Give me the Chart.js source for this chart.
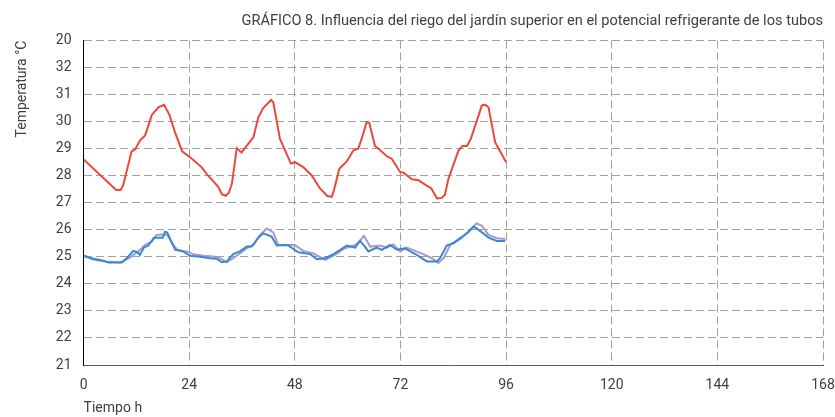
<!DOCTYPE html>
<html lang="es">
<head>
<meta charset="utf-8">
<title>Gráfico 8</title>
<script src="https://cdn.jsdelivr.net/npm/chart.js@4/dist/chart.umd.min.js"></script>
<style>
  html, body { margin: 0; padding: 0; background: #fff; }
  #wrap { width: 835px; height: 417px; position: relative; }
</style>
</head>
<body>
<div id="wrap"><canvas id="grafico8"></canvas></div>
<script>
// Eje X: horas de ensayo (0 - 168 h, marcas cada 24 h)
const horaMin = 0;
const horaMax = 168;
const horaPaso = 24;

// Eje Y: temperatura en °C (la marca superior aparece rotulada como "20")
const tempMin = 21;
const tempMax = 33;
const etiquetasY = { 33: '20' };

// Temperatura del aire [hora, °C]
const tempAire = [
    [0, 28.6], [7.4, 27.47], [8.4, 27.47], [9.0, 27.65], [10.9, 28.9], [11.7, 28.97],
    [12.8, 29.3], [14.0, 29.5], [15.5, 30.25], [17.0, 30.53], [18.3, 30.62], [19.5, 30.25],
    [20.8, 29.59], [22.4, 28.9], [24.6, 28.63], [26.8, 28.32], [28.0, 28.06], [30.6, 27.59],
    [31.4, 27.32], [32.3, 27.26], [33.0, 27.37], [33.7, 27.71], [34.8, 29.02], [35.9, 28.86],
    [38.6, 29.43], [39.7, 30.16], [40.8, 30.5], [42.6, 30.8], [43.1, 30.72], [44.6, 29.37],
    [47.1, 28.45], [48.0, 28.5], [49.9, 28.32], [51.8, 28.02], [53.7, 27.53], [55.4, 27.25],
    [56.4, 27.22], [56.9, 27.47], [58.1, 28.26], [59.8, 28.53], [61.3, 28.94], [62.4, 29.0],
    [63.2, 29.37], [64.3, 29.98], [64.9, 29.96], [66.2, 29.1], [67.4, 28.94], [68.9, 28.72],
    [70.0, 28.63], [71.2, 28.32], [71.9, 28.14], [72.7, 28.11], [74.6, 27.87], [76.1, 27.83],
    [77.6, 27.67], [79.0, 27.53], [80.3, 27.16], [81.4, 27.18], [82.1, 27.3], [82.9, 27.89],
    [85.2, 28.94], [86.1, 29.1], [87.1, 29.1], [88.0, 29.37], [90.5, 30.6], [91.2, 30.63],
    [92.0, 30.53], [93.5, 29.24], [96.0, 28.5]
];

// Tubo con riego [hora, °C]
const tempTuboRiego = [
    [0, 25.04], [2.2, 24.91], [4.5, 24.85], [5.6, 24.79], [8.7, 24.79], [9.8, 24.95],
    [11.3, 25.22], [12.2, 25.17], [12.8, 25.07], [13.7, 25.34], [14.7, 25.42], [16.0, 25.71],
    [18.0, 25.71], [18.5, 25.93], [19.0, 25.9], [20.8, 25.26], [22.3, 25.23], [24.2, 25.04],
    [26.5, 25.0], [28.7, 24.95], [30.2, 24.93], [31.4, 24.8], [32.5, 24.83], [34.0, 25.1],
    [35.5, 25.2], [37.1, 25.38], [38.2, 25.38], [39.7, 25.71], [40.8, 25.87], [42.7, 25.75],
    [43.9, 25.42], [45.4, 25.44], [46.5, 25.42], [48.8, 25.17], [51.5, 25.1], [53.0, 24.91],
    [54.9, 24.95], [56.8, 25.1], [58.3, 25.26], [59.8, 25.42], [61.7, 25.34], [62.8, 25.59],
    [63.6, 25.44], [64.7, 25.2], [66.6, 25.34], [67.8, 25.26], [69.6, 25.44], [71.2, 25.26],
    [73.0, 25.32], [74.2, 25.2], [75.7, 25.07], [78.0, 24.83], [80.3, 24.83], [81.0, 24.95],
    [82.5, 25.42], [84.0, 25.5], [85.9, 25.71], [87.4, 25.93], [88.6, 26.12], [90.1, 25.96],
    [92.0, 25.71], [93.9, 25.59], [95.8, 25.59]
];

// Tubo sin riego [hora, °C]
const tempTuboSinRiego = [
    [0, 25.04], [1.5, 24.97], [3.7, 24.89], [5.2, 24.83], [8.3, 24.79], [10.5, 24.97],
    [12.4, 25.2], [14.0, 25.44], [15.5, 25.56], [16.6, 25.81], [18.1, 25.83], [19.0, 25.81],
    [20.4, 25.44], [21.5, 25.22], [23.4, 25.2], [24.9, 25.1], [27.2, 25.04], [29.5, 25.01],
    [31.0, 24.95], [32.5, 24.8], [34.0, 24.95], [35.5, 25.13], [37.1, 25.32], [38.6, 25.44],
    [40.1, 25.81], [41.6, 26.05], [43.1, 25.9], [44.2, 25.44], [46.5, 25.44], [48.0, 25.44],
    [49.9, 25.22], [52.2, 25.13], [54.9, 24.89], [57.1, 25.07], [59.4, 25.32], [61.7, 25.44],
    [62.8, 25.59], [63.7, 25.78], [65.1, 25.38], [67.4, 25.42], [68.9, 25.34], [70.4, 25.46],
    [71.9, 25.2], [73.4, 25.34], [75.3, 25.22], [77.2, 25.1], [79.1, 24.95], [80.6, 24.77],
    [81.8, 24.95], [83.3, 25.44], [85.5, 25.69], [87.4, 25.9], [89.3, 26.24], [90.5, 26.15],
    [92.0, 25.81], [93.9, 25.69], [95.8, 25.66]
];

const aPuntos = serie => serie.map(([x, y]) => ({ x, y }));

const fuente = { family: 'Roboto', size: 14 };
const colorTexto = '#404040';
const colorRejilla = '#a0a0a0';

const ctx = document.getElementById('grafico8').getContext('2d');
const grafico = new Chart(ctx, {
    type: 'line',
    data: {
        datasets: [
            {
                label: 'Aire',
                data: aPuntos(tempAire),
                borderColor: '#ec473d',
                borderWidth: 2,
                pointRadius: 0,
                tension: 0
            },
            {
                label: 'Tubo con riego',
                data: aPuntos(tempTuboRiego),
                borderColor: '#3c87cf',
                borderWidth: 2,
                pointRadius: 0,
                tension: 0
            },
            {
                label: 'Tubo sin riego',
                data: aPuntos(tempTuboSinRiego),
                borderColor: '#a39bd2',
                borderWidth: 2,
                pointRadius: 0,
                tension: 0
            }
        ]
    },
    options: {
        responsive: true,
        maintainAspectRatio: false,
        animation: false,
        layout: {
            padding: { left: 8, right: 12, top: 6, bottom: 0 }
        },
        plugins: {
            legend: { display: false },
            tooltip: { enabled: false },
            title: {
                display: true,
                text: 'GRÁFICO 8. Influencia del riego del jardín superior en el potencial refrigerante de los tubos',
                align: 'end',
                color: colorTexto,
                font: { family: 'Roboto', size: 14.6, weight: 'normal' },
                padding: { top: 7, bottom: 10 }
            }
        },
        scales: {
            x: {
                type: 'linear',
                min: horaMin,
                max: horaMax,
                afterFit: scale => {
                    scale.height = 52;
                    // el rótulo "168" cabe en el margen del layout
                    scale.paddingRight = 0;
                },
                ticks: {
                    stepSize: horaPaso,
                    color: colorTexto,
                    font: fuente,
                    padding: 12,
                    maxRotation: 0
                },
                grid: {
                    drawTicks: false,
                    color: c => (c.tick && c.tick.value === horaMin) ? 'transparent' : colorRejilla
                },
                border: { display: true, color: '#595959', width: 1, dash: [8, 4] },
                title: {
                    display: true,
                    text: 'Tiempo h',
                    align: 'start',
                    color: colorTexto,
                    font: fuente,
                    padding: { top: 0, bottom: 0 }
                }
            },
            y: {
                min: tempMin,
                max: tempMax,
                afterFit: scale => { scale.width = 75.6; },
                ticks: {
                    stepSize: 1,
                    color: colorTexto,
                    font: fuente,
                    padding: 12,
                    callback: v => etiquetasY[v] ?? v
                },
                grid: {
                    drawTicks: false,
                    color: c => (c.tick && c.tick.value === tempMin) ? 'transparent' : colorRejilla
                },
                border: { display: true, color: '#000', width: 1, dash: [8, 4] },
                title: {
                    display: true,
                    text: 'Temperatura °C',
                    align: 'end',
                    color: colorTexto,
                    font: fuente,
                    padding: { top: 6, bottom: 0 }
                }
            }
        }
    }
});
</script>
</body>
</html>
